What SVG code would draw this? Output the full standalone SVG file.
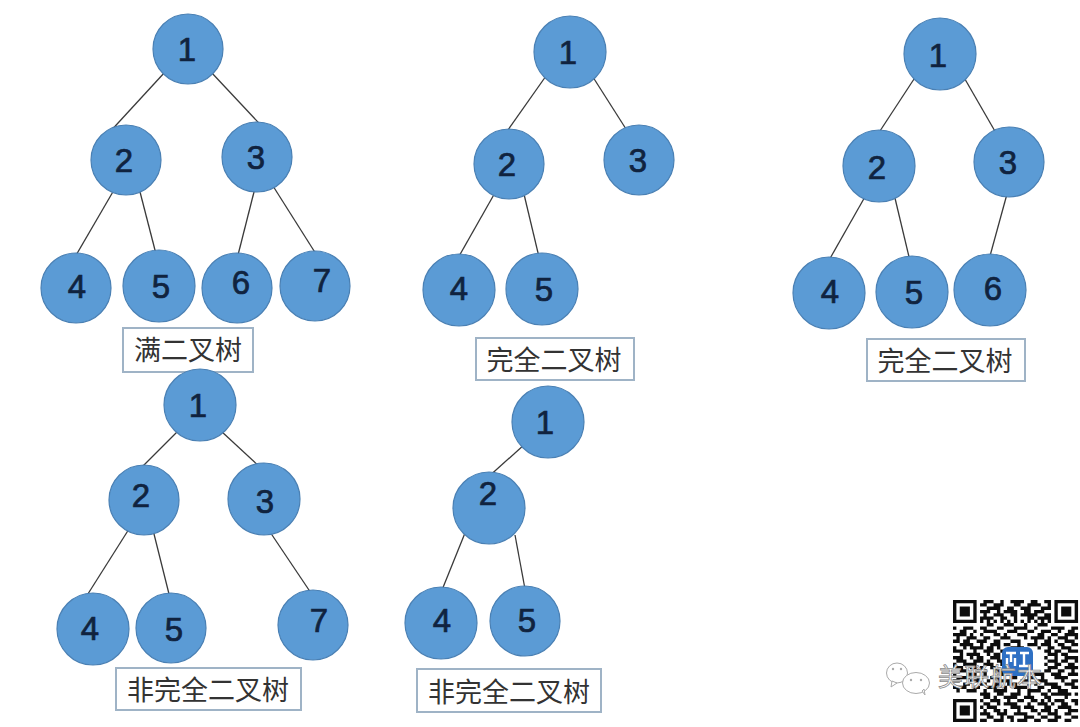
<svg xmlns="http://www.w3.org/2000/svg" width="1080" height="727" viewBox="0 0 1080 727">
<style>
.n circle{fill:#5b9bd5;stroke:#4a80b4;stroke-width:1.2}
.n text{font:33px "Liberation Sans",sans-serif;fill:#10233f;stroke:#10233f;stroke-width:.7;text-anchor:middle}
#connectors line{stroke:#3a3a3a;stroke-width:1.3}
.lb rect{fill:#fff;stroke:#9fb3c6;stroke-width:2}
.lb text{font:27px "Noto Sans CJK SC",sans-serif;fill:#333;text-anchor:middle}
.bub{fill:#fff;stroke:#aaa;stroke-width:1}
.dot{fill:#aaa}
</style>
<defs><filter id="soft" x="-5%" y="-5%" width="110%" height="110%"><feGaussianBlur stdDeviation="0.5"/></filter></defs>
<rect width="1080" height="727" fill="#fff"/>
<g id="connectors">
<line x1="165" y1="72" x2="107" y2="135"/><line x1="211" y1="72" x2="270" y2="135"/>
<line x1="114" y1="190" x2="75" y2="257"/><line x1="139" y1="188" x2="156" y2="254"/>
<line x1="255" y1="188" x2="238" y2="255"/><line x1="273" y1="186" x2="316" y2="254"/>
<line x1="546" y1="76" x2="508" y2="130"/><line x1="591" y1="74" x2="626" y2="129"/>
<line x1="496" y1="191" x2="458" y2="258"/><line x1="523" y1="190" x2="539" y2="257"/>
<line x1="916" y1="76" x2="878" y2="134"/><line x1="962" y1="74" x2="996" y2="133"/>
<line x1="866" y1="195" x2="828" y2="262"/><line x1="894" y1="194" x2="910" y2="261"/>
<line x1="1007" y1="194" x2="990" y2="256"/>
<line x1="178" y1="431" x2="133" y2="476"/><line x1="221" y1="431" x2="262" y2="469"/>
<line x1="129" y1="529" x2="86" y2="597"/><line x1="153" y1="530" x2="170" y2="598"/>
<line x1="268" y1="529" x2="313" y2="596"/>
<line x1="525" y1="444" x2="486" y2="479"/>
<line x1="465" y1="533" x2="442" y2="590"/><line x1="515" y1="535" x2="525" y2="589"/>
</g>
<g id="t1-1" class="n"><circle cx="188" cy="49" r="35"/><text x="187" y="61">1</text></g>
<g id="t1-2" class="n"><circle cx="126" cy="160" r="35"/><text x="124" y="172">2</text></g>
<g id="t1-3" class="n"><circle cx="257" cy="157" r="35"/><text x="256" y="169">3</text></g>
<g id="t1-4" class="n"><circle cx="76" cy="288" r="35"/><text x="77" y="298">4</text></g>
<g id="t1-5" class="n"><circle cx="159" cy="286" r="36"/><text x="161" y="298">5</text></g>
<g id="t1-6" class="n"><circle cx="237" cy="288" r="35"/><text x="241" y="294">6</text></g>
<g id="t1-7" class="n"><circle cx="315" cy="286" r="35"/><text x="322" y="292">7</text></g>
<g id="l1" class="lb"><rect x="123" y="328" width="130" height="44"/><text x="188" y="360">满二叉树</text></g>
<g id="t2-1" class="n"><circle cx="570" cy="52" r="36"/><text x="568" y="64">1</text></g>
<g id="t2-2" class="n"><circle cx="509" cy="164" r="35"/><text x="507" y="176">2</text></g>
<g id="t2-3" class="n"><circle cx="639" cy="160" r="35"/><text x="638" y="172">3</text></g>
<g id="t2-4" class="n"><circle cx="459" cy="290" r="36"/><text x="459" y="300">4</text></g>
<g id="t2-5" class="n"><circle cx="542" cy="289" r="36"/><text x="544" y="301">5</text></g>
<g id="l2" class="lb"><rect x="476" y="338" width="158" height="42"/><text x="554" y="370">完全二叉树</text></g>
<g id="t3-1" class="n"><circle cx="940" cy="54" r="36"/><text x="938" y="67">1</text></g>
<g id="t3-2" class="n"><circle cx="879" cy="166" r="36"/><text x="877" y="179">2</text></g>
<g id="t3-3" class="n"><circle cx="1009" cy="162" r="35"/><text x="1008" y="174">3</text></g>
<g id="t3-4" class="n"><circle cx="829" cy="293" r="36"/><text x="830" y="303">4</text></g>
<g id="t3-5" class="n"><circle cx="912" cy="292" r="36"/><text x="914" y="304">5</text></g>
<g id="t3-6" class="n"><circle cx="990" cy="290" r="36"/><text x="993" y="300">6</text></g>
<g id="l3" class="lb"><rect x="867" y="339" width="158" height="42"/><text x="945" y="371">完全二叉树</text></g>
<g id="t4-1" class="n"><circle cx="200" cy="405" r="36"/><text x="198" y="417">1</text></g>
<g id="t4-2" class="n"><circle cx="144" cy="500" r="35"/><text x="141" y="507">2</text></g>
<g id="t4-3" class="n"><circle cx="264" cy="499" r="36"/><text x="265" y="513">3</text></g>
<g id="t4-4" class="n"><circle cx="93" cy="629" r="36"/><text x="90" y="640">4</text></g>
<g id="t4-5" class="n"><circle cx="171" cy="628" r="35"/><text x="174" y="641">5</text></g>
<g id="t4-7" class="n"><circle cx="313" cy="625" r="35"/><text x="319" y="632">7</text></g>
<g id="l4" class="lb"><rect x="116" y="668" width="185" height="42"/><text x="208" y="700">非完全二叉树</text></g>
<g id="t5-1" class="n"><circle cx="548" cy="422" r="36"/><text x="545" y="434">1</text></g>
<g id="t5-2" class="n"><circle cx="489" cy="508" r="36"/><text x="488" y="505">2</text></g>
<g id="t5-4" class="n"><circle cx="441" cy="623" r="36"/><text x="442" y="632">4</text></g>
<g id="t5-5" class="n"><circle cx="525" cy="621" r="35"/><text x="527" y="632">5</text></g>
<g id="l5" class="lb"><rect x="417" y="669" width="184" height="43"/><text x="509" y="702">非完全二叉树</text></g>
<g id="qr" filter="url(#soft)">
<g transform="translate(953 600) scale(3.38 3.3)">
<path fill="#111" fill-rule="evenodd" d="M0 0h7v7h-7zM1 1v5h5v-5zM2 2h3v3h-3zM30 0h7v7h-7zM31 1v5h5v-5zM32 2h3v3h-3zM0 30h7v7h-7zM1 31v5h5v-5zM2 32h3v3h-3z"/>
<path fill="none" stroke="#111" stroke-width="1" d="M9 .5h3M14 .5h1M17 .5h4M23 .5h2M27 .5h2M8 1.5h2M12 1.5h3M18 1.5h2M22 1.5h4M28 1.5h1M10 2.5h4M16 2.5h2M20 2.5h3M26 2.5h3M8 3.5h3M13 3.5h1M15 3.5h4M21 3.5h2M24 3.5h3M9 4.5h1M12 4.5h3M17 4.5h2M20 4.5h5M27 4.5h2M8 5.5h4M14 5.5h2M18 5.5h1M22 5.5h2M25 5.5h4M8 6.5h1M10 6.5h1M12 6.5h1M14 6.5h1M16 6.5h1M18 6.5h1M20 6.5h1M22 6.5h1M24 6.5h1M26 6.5h1M28 6.5h1M10 7.5h2M15 7.5h3M21 7.5h1M25 7.5h3M0 8.5h1M3 8.5h3M8 8.5h2M13 8.5h2M18 8.5h4M24 8.5h1M29 8.5h4M35 8.5h2M2 9.5h2M6 9.5h1M9 9.5h4M16 9.5h3M22 9.5h2M26 9.5h3M31 9.5h1M34 9.5h2M0 10.5h4M5 10.5h1M8 10.5h1M12 10.5h2M15 10.5h1M19 10.5h3M25 10.5h2M29 10.5h2M33 10.5h4M1 11.5h1M4 11.5h3M9 11.5h2M14 11.5h3M21 11.5h1M23 11.5h4M28 11.5h1M31 11.5h3M36 11.5h1M0 12.5h2M3 12.5h2M7 12.5h3M12 12.5h2M17 12.5h3M24 12.5h1M27 12.5h2M30 12.5h1M33 12.5h3M2 13.5h4M8 13.5h1M11 13.5h3M15 13.5h2M19 13.5h1M22 13.5h3M26 13.5h3M31 13.5h2M35 13.5h2M0 14.5h1M3 14.5h1M5 14.5h4M10 14.5h2M13 14.5h1M17 14.5h4M25 14.5h1M28 14.5h2M32 14.5h3M0 15.5h3M6 15.5h1M9 15.5h3M14 15.5h2M27 15.5h2M30 15.5h2M34 15.5h3M2 16.5h1M4 16.5h4M10 16.5h1M12 16.5h2M16 16.5h1M28 16.5h3M32 16.5h2M0 17.5h3M5 17.5h1M7 17.5h2M11 17.5h3M27 17.5h1M30 17.5h1M33 17.5h4M1 18.5h3M6 18.5h3M10 18.5h1M13 18.5h2M28 18.5h3M32 18.5h2M36 18.5h1M0 19.5h1M3 19.5h4M9 19.5h3M14 19.5h1M27 19.5h1M30 19.5h2M34 19.5h2M0 20.5h3M5 20.5h2M8 20.5h1M11 20.5h2M15 20.5h1M28 20.5h3M33 20.5h4M2 21.5h2M7 21.5h3M12 21.5h3M27 21.5h2M31 21.5h2M35 21.5h1M0 22.5h1M4 22.5h3M9 22.5h1M14 22.5h3M19 22.5h2M24 22.5h3M29 22.5h3M34 22.5h3M1 23.5h4M7 23.5h2M11 23.5h3M17 23.5h2M22 23.5h2M26 23.5h1M30 23.5h4M0 24.5h2M5 24.5h3M10 24.5h1M13 24.5h4M20 24.5h3M25 24.5h3M32 24.5h1M35 24.5h2M3 25.5h2M8 25.5h2M12 25.5h2M16 25.5h3M22 25.5h1M24 25.5h1M27 25.5h4M33 25.5h3M0 26.5h4M6 26.5h2M10 26.5h3M15 26.5h1M18 26.5h4M25 26.5h2M29 26.5h3M35 26.5h2M1 27.5h1M4 27.5h3M9 27.5h1M12 27.5h4M19 27.5h1M22 27.5h4M28 27.5h1M31 27.5h3M8 28.5h3M13 28.5h2M17 28.5h3M22 28.5h1M26 28.5h2M29 28.5h6M36 28.5h1M9 29.5h2M12 29.5h1M15 29.5h4M21 29.5h3M27 29.5h2M33 29.5h1M8 30.5h1M11 30.5h3M16 30.5h1M19 30.5h2M23 30.5h2M26 30.5h1M28 30.5h1M30 30.5h3M35 30.5h2M9 31.5h2M13 31.5h1M15 31.5h4M22 31.5h1M25 31.5h3M29 31.5h1M32 31.5h2M36 31.5h1M8 32.5h1M10 32.5h3M17 32.5h3M21 32.5h3M27 32.5h2M31 32.5h4M9 33.5h1M12 33.5h2M15 33.5h1M19 33.5h1M23 33.5h2M26 33.5h3M30 33.5h1M34 33.5h3M8 34.5h3M13 34.5h3M18 34.5h4M25 34.5h1M28 34.5h3M33 34.5h2M10 35.5h2M14 35.5h1M16 35.5h2M21 35.5h3M26 35.5h2M30 35.5h2M35 35.5h2M8 36.5h2M12 36.5h3M17 36.5h1M19 36.5h3M24 36.5h2M28 36.5h3M33 36.5h2"/>
</g>
<rect x="1002" y="647" width="31" height="29" rx="6" fill="#2f6fc4"/>
<path fill="none" stroke="#fff" stroke-width="2.4" d="M1006 653h10M1011 653v9M1007 658v8M1015 658v8M1020 653h9M1024 653v13M1019 666h10"/>
</g>
<g id="wechat-mark">
<ellipse class="bub" cx="897" cy="673" rx="10.5" ry="10"/>
<path class="bub" d="M892 681l-1 6 6-4z"/>
<circle class="dot" cx="893" cy="669" r="1.2"/><circle class="dot" cx="901" cy="669" r="1.2"/>
<ellipse class="bub" cx="916" cy="683" rx="13.5" ry="10.5"/>
<path class="bub" d="M922 691l3 4-1-6z"/>
<circle class="dot" cx="911" cy="680" r="1.2"/><circle class="dot" cx="921" cy="680" r="1.2"/>
<text x="990" y="686" text-anchor="middle" textLength="104" style="font:25px 'Noto Sans CJK SC',sans-serif;fill:#fff;stroke:#8a8a8a;stroke-width:.8">美联航本</text>
</g>
</svg>
